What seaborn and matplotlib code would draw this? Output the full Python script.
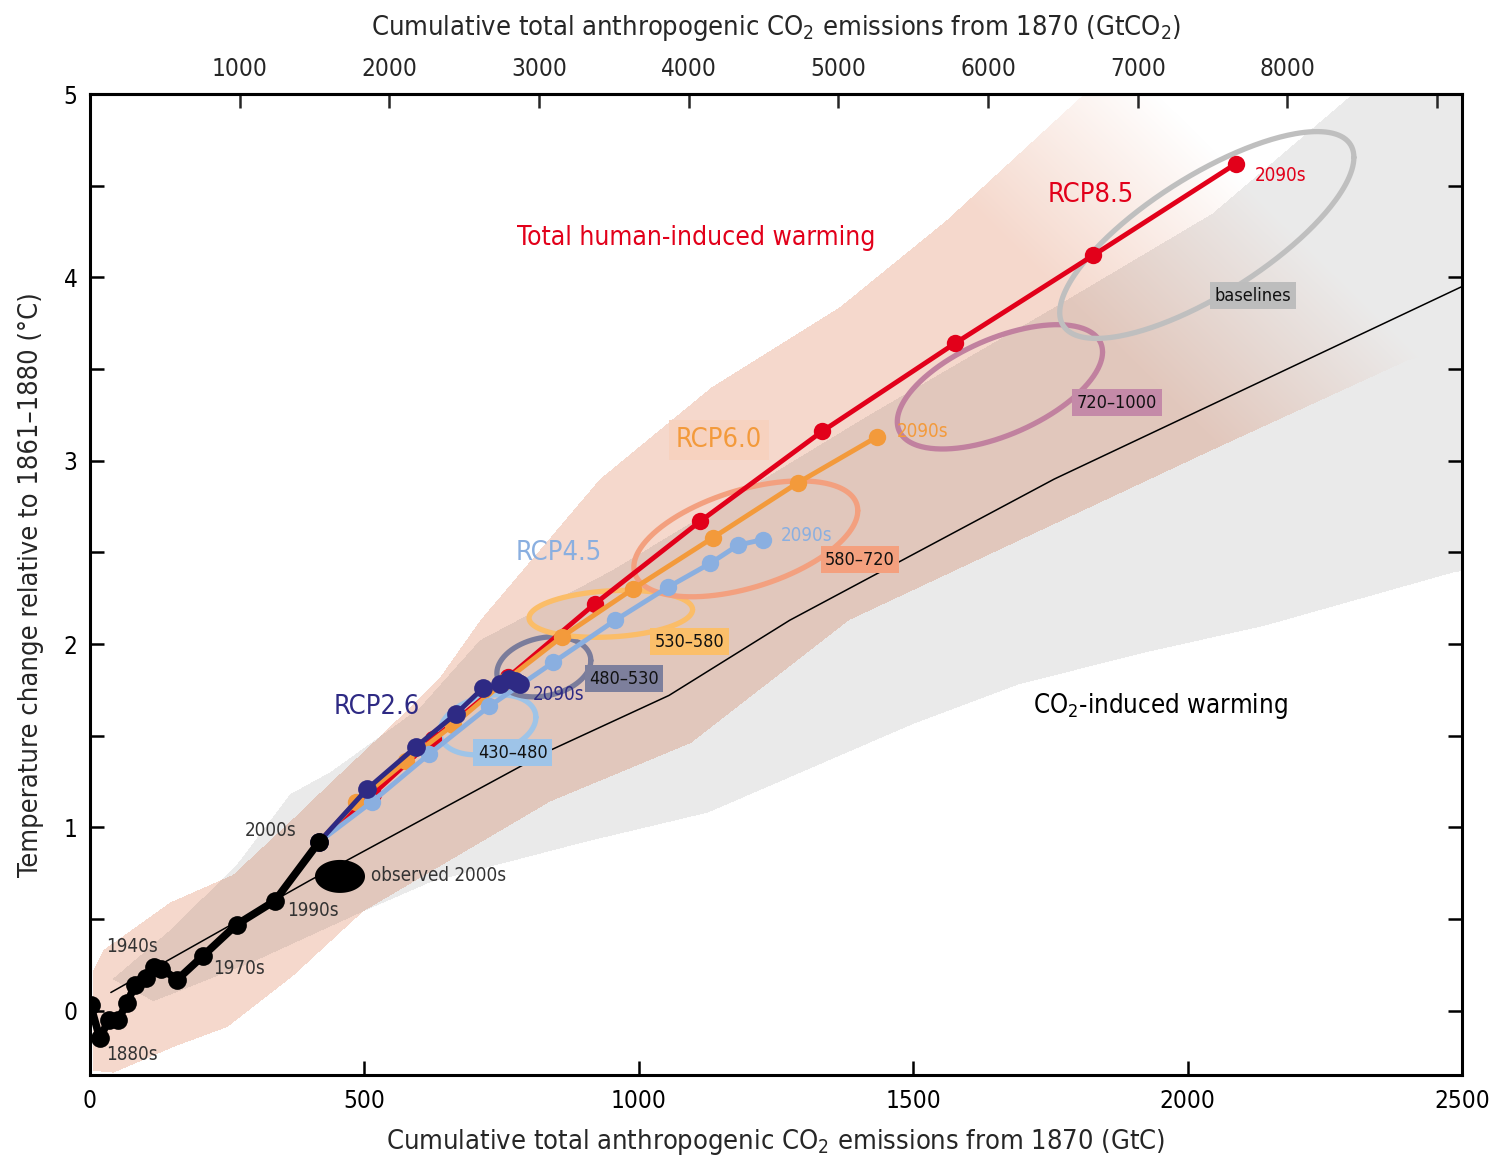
import numpy as np
import pandas as pd
import seaborn as sns
import matplotlib
matplotlib.use("Agg")
import matplotlib.pyplot as plt
from matplotlib.path import Path
from matplotlib import font_manager as fm

# ---------------- data ----------------
hist_x = [1, 18, 34, 51, 67, 82, 102, 117, 130, 159, 206, 267, 337, 417]
hist_y = [0.03, -0.15, -0.05, -0.05, 0.04, 0.14, 0.18, 0.24, 0.23, 0.17, 0.30, 0.47, 0.60, 0.92]

rcp85_x = [417, 515, 625, 762, 920, 1112, 1334, 1576, 1828, 2088]
rcp85_y = [0.92, 1.18, 1.48, 1.82, 2.22, 2.67, 3.16, 3.64, 4.12, 4.62]
rcp60_x = [417, 485, 575, 662, 757, 860, 989, 1135, 1290, 1434]
rcp60_y = [0.92, 1.14, 1.36, 1.56, 1.80, 2.04, 2.30, 2.58, 2.88, 3.13]
rcp45_x = [417, 514, 618, 727, 844, 957, 1053, 1130, 1181, 1226]
rcp45_y = [0.92, 1.14, 1.40, 1.66, 1.90, 2.13, 2.31, 2.44, 2.54, 2.57]
rcp26_x = [417, 505, 594, 667, 716, 747, 764, 774, 780, 783]
rcp26_y = [0.92, 1.21, 1.44, 1.62, 1.76, 1.78, 1.81, 1.80, 1.79, 1.78]

co2_x = [38, 400, 838, 1055, 1275, 1757, 2500]
co2_y = [0.10, 0.71, 1.42, 1.72, 2.13, 2.90, 3.95]

# shaded ranges (outline vertices)
gray_upper_x = [40, 150, 268, 364, 437, 600, 710, 950, 1200, 1420, 1742, 2046, 2301, 2700]
gray_upper_y = [0.17, 0.45, 0.80, 1.18, 1.30, 1.65, 2.02, 2.40, 2.85, 3.25, 3.81, 4.35, 5.00, 5.60]
gray_lower_x = [115, 300, 497, 620, 838, 902, 1126, 1501, 1693, 1917, 2141, 2484, 2700]
gray_lower_y = [0.05, 0.27, 0.54, 0.70, 0.87, 0.92, 1.08, 1.565, 1.78, 1.95, 2.10, 2.39, 2.50]
pink_upper_x = [5, 24, 146, 260, 364, 437, 547, 638, 711, 929, 1132, 1367, 1560, 1804, 1950]
pink_upper_y = [0.22, 0.33, 0.59, 0.74, 1.03, 1.24, 1.55, 1.82, 2.13, 2.90, 3.40, 3.84, 4.31, 4.98, 5.40]
pink_lower_x = [5, 42, 151, 250, 370, 497, 838, 1095, 1383, 2046, 2403, 2700]
pink_lower_y = [-0.33, -0.34, -0.20, -0.09, 0.19, 0.54, 1.14, 1.46, 2.13, 3.06, 3.55, 3.75]

# concentration-category ellipses: centre, half-range x, half-range y, correlation
ell_names = ["430\u2013480", "480\u2013530", "530\u2013580", "580\u2013720", "720\u20131000", "baselines"]
ell_cx = [725, 827, 949, 1195, 1658, 2035]
ell_cy = [1.56, 1.876, 2.165, 2.574, 3.403, 4.231]
ell_hx = [87.5, 85.6, 149, 204, 187, 268]
ell_hy = [0.164, 0.164, 0.128, 0.316, 0.339, 0.564]
ell_rho = [0.25, 0.21, 0.18, 0.486, 0.56, 0.75]
ell_colors = ["#9ec4e8", "#7a7c9b", "#fbbd68", "#f3a07f", "#c1819f", "#bfbfbf"]
ell_box_colors = ["#9ec4e8", "#7d7f9c", "#fbbf6a", "#f4a07e", "#c48aa8", "#bdbdbd"]

obs_cx, obs_cy, obs_hx, obs_hy = 455.5, 0.733, 45.6, 0.09

xticks_bottom = [0, 500, 1000, 1500, 2000, 2500]
xticks_top = [1000, 2000, 3000, 4000, 5000, 6000, 7000, 8000, 9000]
xticklabels_top = ["1000", "2000", "3000", "4000", "5000", "6000", "7000", "8000", ""]
yticks = [0, 1, 2, 3, 4, 5]

# ---------------- style ----------------
sns.set_style("white")
names = {f.name for f in fm.fontManager.ttflist}
FONT = "Liberation Sans Narrow" if "Liberation Sans Narrow" in names else "DejaVu Sans"
plt.rcParams["font.family"] = [FONT, "DejaVu Sans"]
if FONT == "DejaVu Sans":
    plt.rcParams["font.stretch"] = "condensed"
plt.rcParams["mathtext.fontset"] = "custom"
plt.rcParams["mathtext.rm"] = FONT
plt.rcParams["text.color"] = "#1a1a1a"

W, H = 1501, 1167
fig = plt.figure(figsize=(W / 100, H / 100), dpi=100)
ax = fig.add_axes([90 / W, 1 - 1075 / H, (1462 - 90) / W, (1075 - 94) / H])
XMIN, XMAX, YMIN, YMAX = 0, 2500, -0.35, 5.0
ax.set_xlim(XMIN, XMAX)
ax.set_ylim(YMIN, YMAX)

# ---------------- shaded ranges (multiply-blended raster) ----------------
nx, ny = 1372, 981
gx = np.linspace(XMIN, XMAX, nx)
gy = np.linspace(YMIN, YMAX, ny)
GX, GY = np.meshgrid(gx, gy)
pts = np.column_stack([GX.ravel(), GY.ravel()])
gray_poly = Path(np.column_stack([gray_upper_x + gray_lower_x[::-1],
                                  gray_upper_y + gray_lower_y[::-1]]))
pink_poly = Path(np.column_stack([pink_upper_x + [2700] + pink_lower_x[::-1],
                                  pink_upper_y + [6.0] + pink_lower_y[::-1]]))
in_gray = gray_poly.contains_points(pts).reshape(GX.shape)
in_pink = pink_poly.contains_points(pts).reshape(GX.shape)
gray_rgb = np.array([235, 235, 235]) / 255
pink_rgb = np.array([245, 216, 204]) / 255
s = GX + 341 * GY
fade = np.clip((3650 - s) / 550, 0, 1)
pf = (in_pink * fade)[..., None]
pink_layer = 1 - pf * (1 - pink_rgb)
gray_layer = np.where(in_gray[..., None], gray_rgb, 1.0)
img = pink_layer * gray_layer
ax.imshow(img, extent=[XMIN, XMAX, YMIN, YMAX], origin="lower", aspect="auto",
          interpolation="bilinear", zorder=0)

# ---------------- CO2-only line ----------------
sns.lineplot(x=co2_x, y=co2_y, sort=False, estimator=None, color="black", linewidth=1.1, ax=ax, zorder=2)

# ---------------- ellipses ----------------
t = np.linspace(0, 2 * np.pi, 300)
for cx, cy, hx, hy, r, col in zip(ell_cx, ell_cy, ell_hx, ell_hy, ell_rho, ell_colors):
    ex = cx + hx * np.cos(t)
    ey = cy + hy * (r * np.cos(t) + np.sqrt(1 - r * r) * np.sin(t))
    ax.plot(ex, ey, color=col, linewidth=3.8, zorder=3, solid_capstyle="round")

ex = obs_cx + obs_hx * np.cos(t)
ey = obs_cy + obs_hy * np.sin(t)
ax.fill(ex, ey, color="black", zorder=6, linewidth=0)

# ---------------- scenario lines ----------------
scen = [(rcp85_x, rcp85_y, "#e2001a", 12.5), (rcp60_x, rcp60_y, "#f39a3b", 12.5),
        (rcp45_x, rcp45_y, "#8aafe0", 12.5), (rcp26_x, rcp26_y, "#2e2a84", 13.5)]
for i, (xs, ys, col, ms) in enumerate(scen):
    sns.lineplot(x=xs, y=ys, sort=False, estimator=None, color=col, linewidth=3.5,
                 marker="o", markersize=ms, markeredgewidth=0, ax=ax, zorder=7 + i)

sns.lineplot(x=hist_x, y=hist_y, sort=False, estimator=None, color="black", linewidth=5.5,
             marker="o", markersize=13.5, markeredgewidth=0, ax=ax, zorder=12)

# ---------------- labels ----------------
lab_pos = [(770, 1.407), (973, 1.810), (1093, 2.012), (1403, 2.459), (1871, 3.315), (2119, 3.899)]
for (lx, ly), txt, bc in zip(lab_pos, ell_names, ell_box_colors):
    ax.text(lx, ly, txt, fontsize=13, ha="center", va="center", color="#111111", zorder=5,
            bbox=dict(boxstyle="square,pad=0.25", fc=bc, ec="none"))

ax.text(1824, 4.449, "RCP8.5", color="#e2001a", fontsize=19.5, ha="center", va="center", zorder=13)
ax.text(1104, 4.215, "Total human-induced warming", color="#e2001a", fontsize=19,
        ha="center", va="center", zorder=13)
ax.text(1146, 3.113, "RCP6.0", color="#f39a3b", fontsize=19.5, ha="center", va="center", zorder=13,
        bbox=dict(boxstyle="square,pad=0.25", fc="#f7d2bf", ec="none"))
ax.text(855, 2.497, "RCP4.5", color="#8aafe0", fontsize=19.5, ha="center", va="center", zorder=13)
ax.text(523, 1.658, "RCP2.6", color="#2e2a84", fontsize=19.5, ha="center", va="center", zorder=13)

ax.text(2123, 4.558, "2090s", color="#e2001a", fontsize=13.5, ha="left", va="center", zorder=13)
ax.text(1470, 3.157, "2090s", color="#f39a3b", fontsize=13.5, ha="left", va="center", zorder=13)
ax.text(1259, 2.590, "2090s", color="#8aafe0", fontsize=13.5, ha="left", va="center", zorder=13)
ax.text(807, 1.723, "2090s", color="#2e2a84", fontsize=13.5, ha="left", va="center", zorder=13)

dec_c = "#333333"
ax.text(377, 0.981, "2000s", color=dec_c, fontsize=13.5, ha="right", va="center", zorder=13)
ax.text(359, 0.545, "1990s", color=dec_c, fontsize=13.5, ha="left", va="center", zorder=13)
ax.text(224, 0.229, "1970s", color=dec_c, fontsize=13.5, ha="left", va="center", zorder=13)
ax.text(29, 0.349, "1940s", color=dec_c, fontsize=13.5, ha="left", va="center", zorder=13)
ax.text(29, -0.240, "1880s", color=dec_c, fontsize=13.5, ha="left", va="center", zorder=13)
ax.text(512, 0.736, "observed 2000s", color=dec_c, fontsize=13.5, ha="left", va="center", zorder=13)
ax.text(1718, 1.663, r"$\mathregular{CO_2}$-induced warming", color="black", fontsize=18.5,
        ha="left", va="center", zorder=13)

# ---------------- axes ----------------
for sp in ax.spines.values():
    sp.set_linewidth(2.2)
    sp.set_color("black")
    sp.set_zorder(20)
ax.set_xticks(xticks_bottom)
ax.set_yticks(yticks)
ax.set_yticks([0.5, 1.5, 2.5, 3.5, 4.5], minor=True)
ax.tick_params(axis="both", which="both", direction="in", length=10, width=1.8,
               labelsize=17.5, colors="black")
ax.tick_params(axis="y", which="both", left=True, right=True, pad=9)
ax.tick_params(axis="x", which="both", bottom=True, top=False, pad=10)
ax.set_xlabel(r"Cumulative total anthropogenic $\mathregular{CO_2}$ emissions from 1870 (GtC)",
              fontsize=19.5, labelpad=10)
ax.set_ylabel("Temperature change relative to 1861\u20131880 (\u00b0C)", fontsize=19.5, labelpad=14)

sec = ax.secondary_xaxis("top", functions=(lambda x: x * 44 / 12, lambda x: x * 12 / 44))
sec.set_xticks(xticks_top)
sec.set_xticklabels(xticklabels_top)
sec.tick_params(direction="in", length=10, width=1.8, labelsize=17.5, pad=9)
sec.spines["top"].set_linewidth(2.2)
sec.set_xlabel(r"Cumulative total anthropogenic $\mathregular{CO_2}$ emissions from 1870 ($\mathregular{GtCO_2}$)",
               fontsize=19.5, labelpad=16)

fig.savefig("out.png", dpi=100)
